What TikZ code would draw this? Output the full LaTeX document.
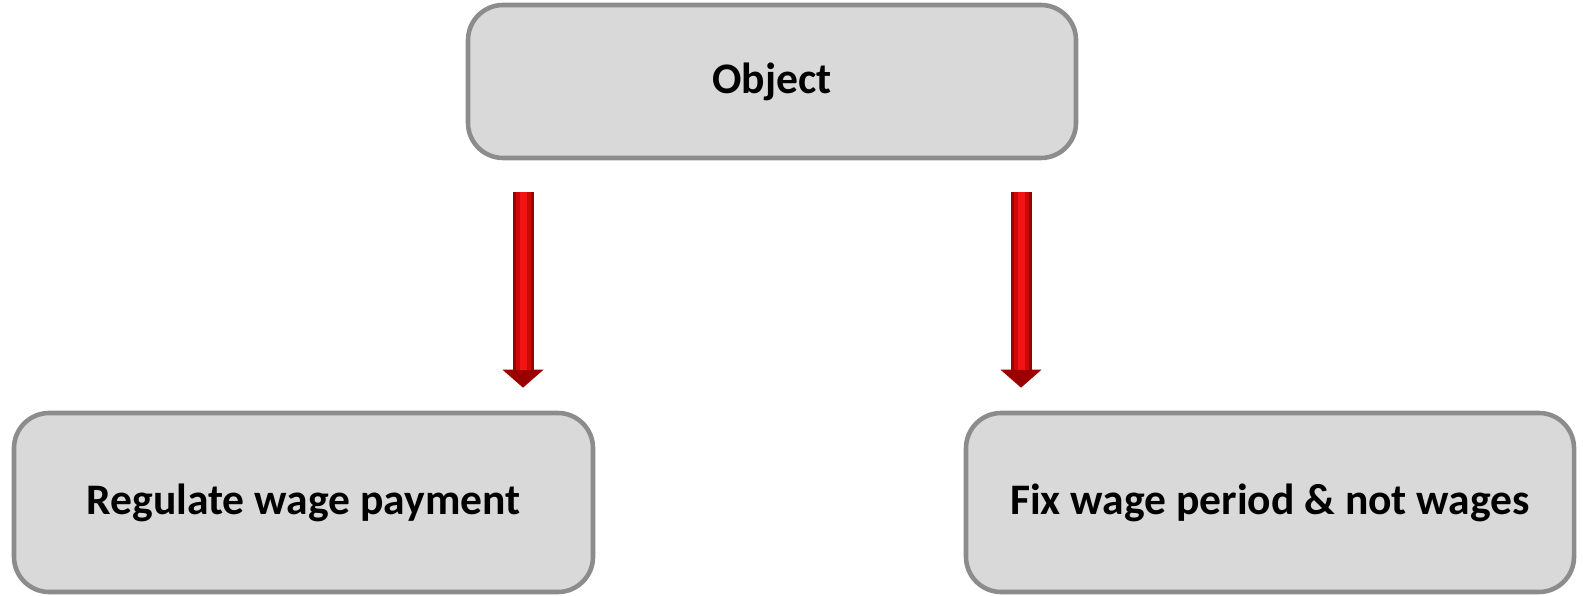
\documentclass[tikz,border=0pt]{standalone}
\usepackage{fontspec}
\setmainfont{Carlito}
\usetikzlibrary{arrows.meta,positioning}
\definecolor{boxgray}{HTML}{D9D9D9}
\definecolor{boxline}{HTML}{8C8C8C}
\definecolor{darkred}{HTML}{9A0000}
\definecolor{midred}{HTML}{CC0808}
\definecolor{brightred}{HTML}{F21414}
\tikzset{
    objbox/.style={
    rectangle,rounded corners=10pt,draw=boxline,line width=1.3pt,fill=boxgray,
    font=\fontsize{12.4}{15}\selectfont\bfseries,text centered
    },
    redarrow/.style={draw=darkred,line width=2.1mm,-{Triangle[width=4mm,length=1.8mm]}},
    redmid/.style={draw=midred,line width=1.5mm},
    redglow/.style={draw=brightred,line width=0.7mm}
}
\begin{document}
\begin{tikzpicture}
    \useasboundingbox (0,0) rectangle (15.83,5.95);

    \node[objbox,minimum width=6.08cm,minimum height=1.53cm] (obj) at (7.72,5.135) {Object};
    \node[objbox,minimum width=5.79cm,minimum height=1.79cm] (reg) at (3.035,0.925) {Regulate wage payment};
    \node[objbox,minimum width=6.08cm,minimum height=1.79cm] (fix) at (12.70,0.925) {Fix wage period \& not wages};

    \coordinate (la) at (5.23,0);
    \coordinate (ra) at (10.21,0);

    \draw[redarrow,shorten <=3.2mm,shorten >=2.3mm] (obj.south -| la) -- (reg.north -| la);
    \draw[redmid,shorten <=3.2mm,shorten >=4.1mm] (obj.south -| la) -- (reg.north -| la);
    \draw[redglow,shorten <=3.2mm,shorten >=4.1mm] (obj.south -| la) -- (reg.north -| la);
    \draw[redarrow,shorten <=3.2mm,shorten >=2.3mm] (obj.south -| ra) -- (fix.north -| ra);
    \draw[redmid,shorten <=3.2mm,shorten >=4.1mm] (obj.south -| ra) -- (fix.north -| ra);
    \draw[redglow,shorten <=3.2mm,shorten >=4.1mm] (obj.south -| ra) -- (fix.north -| ra);
\end{tikzpicture}
\end{document}
